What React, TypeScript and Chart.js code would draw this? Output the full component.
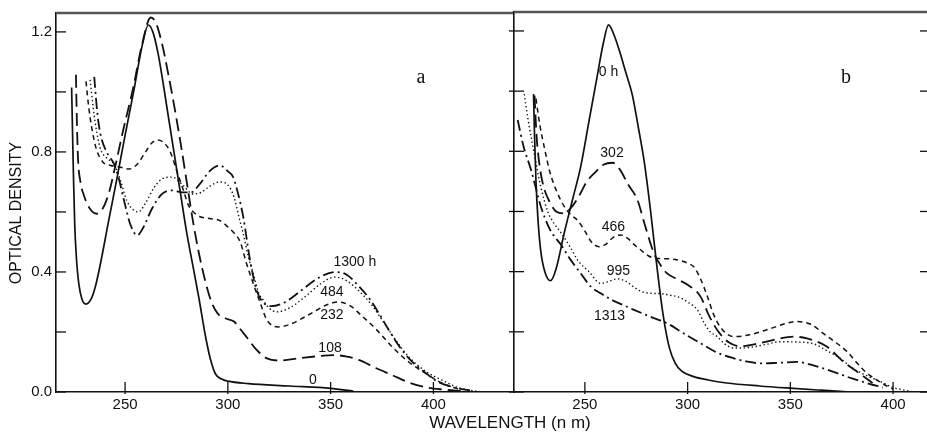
import React, { useEffect, useRef } from "react";
import { Chart, registerables } from "chart.js";
Chart.register(...registerables);

// ---- axis ticks ----
const yTicks = [0, 0.2, 0.4, 0.6, 0.8, 1.0, 1.2];
const yLabeled = [0, 0.4, 0.8, 1.2];
const xTicks = [250, 300, 350, 400];

// ---- panel a (wavelength nm, optical density) ----
const a0: number[][] = [[224.0,1.015],[224.4,0.88],[224.9,0.72],[225.5,0.56],[226.3,0.45],[227.5,0.36],[229,0.31],[231,0.293],[233.5,0.31],[235.5,0.35],[237.8,0.42],[242,0.57],[246,0.71],[250,0.855],[254,0.995],[258.5,1.16],[261.3,1.223],[263.5,1.2],[266,1.13],[268.5,1.03],[271,0.92],[274,0.79],[277,0.66],[280,0.53],[283,0.42],[286,0.31],[289,0.19],[291.5,0.11],[294,0.06],[297,0.043],[300,0.036],[310,0.028],[330,0.02],[350,0.012],[361,0.003]];
const a108: number[][] = [[226.1,1.057],[226.5,0.92],[227.1,0.78],[228.3,0.70],[230,0.655],[232.5,0.615],[236.2,0.594],[239,0.61],[242,0.66],[245,0.745],[249,0.87],[254,1.015],[258,1.15],[262.5,1.248],[265,1.23],[268,1.16],[271,1.06],[274,0.95],[277,0.83],[280,0.70],[283,0.57],[286,0.46],[289,0.37],[292,0.30],[295,0.262],[299,0.245],[303,0.235],[306,0.21],[309,0.184],[314,0.14],[319,0.112],[325,0.105],[335,0.113],[345,0.12],[351,0.123],[358,0.118],[364,0.106],[372,0.08],[380,0.056],[388,0.032],[396,0.016],[405,0.008],[414,0.003]];
const a232: number[][] = [[231,1.035],[232.3,0.95],[233.8,0.88],[236,0.81],[239.4,0.765],[243,0.755],[247,0.75],[252,0.743],[256,0.76],[260,0.8],[263,0.83],[266,0.84],[269,0.83],[272,0.8],[275,0.74],[278,0.68],[281,0.62],[284,0.595],[287,0.583],[291,0.578],[296,0.572],[300,0.55],[303,0.53],[306,0.5],[309,0.43],[312.4,0.36],[315.6,0.3],[319,0.24],[324.5,0.217],[330,0.225],[340,0.26],[348,0.29],[354,0.30],[360,0.285],[364,0.261],[372,0.21],[380,0.15],[388,0.1],[396,0.063],[404,0.03],[412,0.01]];
const a484: number[][] = [[233,1.04],[235,0.92],[237.8,0.815],[241,0.78],[244.6,0.76],[248,0.70],[250.8,0.638],[253.5,0.61],[256.4,0.6],[260,0.63],[264,0.68],[268,0.71],[273,0.716],[278,0.69],[283,0.66],[287,0.665],[291,0.685],[296,0.70],[300,0.69],[303,0.65],[305.5,0.58],[307.5,0.527],[310,0.45],[312.4,0.394],[315,0.33],[317.2,0.306],[320,0.28],[323.7,0.267],[330,0.28],[338,0.32],[345,0.36],[352,0.383],[358,0.37],[364,0.335],[370,0.29],[376,0.23],[382,0.17],[388,0.117],[396,0.07],[404,0.04],[412,0.015],[423,0.0]];
const a1300: number[][] = [[235,1.05],[236.5,0.93],[238,0.86],[241,0.8],[244.6,0.76],[247,0.71],[249.5,0.638],[252.5,0.56],[255.9,0.522],[259,0.55],[263,0.61],[268,0.66],[272.6,0.672],[278,0.665],[282,0.665],[286,0.69],[291,0.735],[296.2,0.755],[300,0.735],[302.6,0.716],[305,0.66],[307.5,0.583],[310.8,0.439],[314,0.339],[317,0.3],[321,0.286],[328,0.3],[336,0.34],[344,0.38],[352.3,0.40],[358,0.39],[364,0.35],[369,0.31],[373.5,0.262],[378,0.21],[383,0.156],[389,0.105],[395,0.07],[402,0.035],[410,0.015],[418,0.005]];

// ---- panel b ----
const b0: number[][] = [[225,0.99],[225.5,0.85],[226.2,0.7],[227.2,0.57],[228.5,0.47],[230.5,0.40],[233.3,0.37],[236,0.41],[240,0.53],[244,0.64],[248,0.75],[252,0.9],[256,1.05],[259,1.16],[261.5,1.22],[264,1.19],[267,1.13],[270,1.06],[273,0.99],[276,0.88],[279,0.76],[282,0.6],[285,0.42],[288,0.26],[291,0.15],[294,0.095],[297,0.07],[303,0.051],[310,0.04],[319,0.03],[335,0.02],[351.5,0.012],[365,0.006],[379,0.0]];
const b302: number[][] = [[225.5,0.985],[226.5,0.85],[228,0.75],[230,0.68],[233,0.63],[236,0.6],[239.5,0.594],[243,0.61],[247,0.65],[251,0.7],[255,0.73],[259,0.755],[263.4,0.762],[267,0.74],[271,0.69],[275.6,0.638],[279,0.56],[283.6,0.461],[287,0.42],[290,0.394],[295,0.375],[301.4,0.35],[306.3,0.317],[310,0.26],[314.4,0.206],[320,0.165],[325.7,0.152],[335,0.162],[343,0.175],[351.5,0.184],[358,0.178],[367.7,0.151],[375.9,0.1],[384,0.06],[390,0.03]];
const b466: number[][] = [[226.2,0.975],[228,0.89],[230.2,0.815],[233,0.73],[236.7,0.66],[240,0.616],[243,0.59],[246.4,0.571],[250,0.535],[253,0.5],[256.9,0.483],[260,0.49],[264,0.515],[267.5,0.522],[271,0.51],[274,0.49],[277.2,0.472],[281,0.452],[285.3,0.444],[290,0.443],[295,0.439],[300,0.428],[303,0.416],[306,0.38],[309.5,0.32],[312.5,0.26],[316,0.215],[322.5,0.184],[330,0.19],[340,0.21],[348,0.228],[353.2,0.234],[360,0.225],[366,0.195],[371,0.17],[377.5,0.135],[382,0.1],[385.6,0.073],[392,0.04],[397,0.02],[400,0.01]];
const b995: number[][] = [[220.5,0.99],[222.5,0.9],[225.4,0.79],[228.6,0.68],[231.9,0.6],[235,0.56],[238.3,0.53],[243,0.48],[246.4,0.439],[252,0.4],[257.7,0.361],[261,0.366],[265.7,0.376],[270,0.368],[274,0.348],[277.2,0.335],[282,0.328],[286.9,0.327],[291,0.322],[295,0.317],[299.8,0.3],[304.7,0.273],[308,0.23],[311,0.2],[314.4,0.184],[318,0.16],[322.5,0.146],[330,0.148],[338,0.158],[345,0.167],[353,0.166],[361.4,0.16],[367,0.14],[374.3,0.112],[380,0.08],[387,0.055],[393.7,0.035],[400,0.015],[405,0.007],[409.7,0.0]];
const b1313: number[][] = [[217.3,0.904],[220,0.82],[223.8,0.738],[228.6,0.616],[233,0.54],[238.3,0.49],[243,0.44],[248,0.394],[252.9,0.35],[257.7,0.328],[264,0.303],[270,0.285],[273.9,0.273],[282,0.25],[290.1,0.228],[298,0.195],[306.3,0.162],[314,0.132],[322.5,0.112],[330,0.1],[335.4,0.095],[344,0.097],[353.2,0.1],[362,0.087],[371,0.067],[380,0.045],[388,0.028],[395,0.015]];

// ---- curve labels (in data units) ----
const aLabels = [
  { text: "0", x: 341.4, y: 0.04 },
  { text: "108", x: 349.7, y: 0.146 },
  { text: "232", x: 350.6, y: 0.256 },
  { text: "484", x: 350.6, y: 0.332 },
  { text: "1300 h", x: 361.8, y: 0.432 },
];
const bLabels = [
  { text: "0 h", x: 261.5, y: 1.064 },
  { text: "302", x: 263.2, y: 0.795 },
  { text: "466", x: 263.9, y: 0.547 },
  { text: "995", x: 266.3, y: 0.402 },
  { text: "1313", x: 262, y: 0.253 },
];

const W = 927;
const H = 434;
const INK = "#111";
const SANS = '"Liberation Sans", Arial, sans-serif';

const dashes = {
  solid: [] as number[],
  long: [13, 6],
  short: [5, 4],
  dot: [1.4, 2.6],
  dashdot: [11, 4, 2, 4],
};

function ds(data: number[][], dash: number[], width: number) {
  return {
    data: data.map(([x, y]) => ({ x, y })),
    showLine: true,
    borderColor: INK,
    borderWidth: width,
    borderDash: dash,
    pointRadius: 0,
    fill: false,
    cubicInterpolationMode: "monotone" as const,
  };
}

const framePlugin = {
  id: "frame",
  afterDraw(chart: any, _a: any, opts: any) {
    const { ctx, chartArea: ca, scales } = chart;
    ctx.save();
    ctx.setLineDash([]);
    ctx.strokeStyle = INK;
    ctx.lineWidth = 1.3;
    for (const v of yTicks) {
      const py = scales.y.getPixelForValue(v);
      ctx.beginPath();
      ctx.moveTo(ca.left - opts.yOut, py);
      ctx.lineTo(ca.left + opts.yIn, py);
      ctx.stroke();
      if (opts.rightTicks) {
        ctx.beginPath();
        ctx.moveTo(ca.right - 7, py);
        ctx.lineTo(ca.right, py);
        ctx.stroke();
      }
    }
    for (const v of xTicks) {
      const px = scales.x.getPixelForValue(v);
      ctx.beginPath();
      ctx.moveTo(px, ca.bottom + 2);
      ctx.lineTo(px, ca.bottom - 10);
      ctx.stroke();
    }
    // top frame
    ctx.strokeStyle = "#555";
    ctx.lineWidth = 2.5;
    ctx.beginPath();
    ctx.moveTo(ca.left, ca.top);
    ctx.lineTo(ca.right, ca.top);
    ctx.stroke();
    // curve labels
    ctx.fillStyle = INK;
    ctx.font = `14px ${SANS}`;
    ctx.textAlign = "center";
    ctx.textBaseline = "middle";
    for (const l of opts.labels) {
      ctx.fillText(l.text, scales.x.getPixelForValue(l.x), scales.y.getPixelForValue(l.y));
    }
    // panel letter
    ctx.font = `20px "Liberation Serif", serif`;
    ctx.fillText(opts.letter, opts.letterX, opts.letterY);
    if (opts.titles) {
      ctx.font = `17px ${SANS}`;
      ctx.fillText("WAVELENGTH (n m)", 510, 423);
      ctx.save();
      ctx.translate(17, 213);
      ctx.rotate(-Math.PI / 2);
      ctx.font = `16px ${SANS}`;
      ctx.fillText("OPTICAL DENSITY", 0, 0);
      ctx.restore();
    }
    ctx.restore();
  },
};

function makeConfig(panel: "a" | "b") {
  const isA = panel === "a";
  const series = isA
    ? [
        ds(a0, dashes.solid, 1.7),
        ds(a108, dashes.long, 1.8),
        ds(a232, dashes.short, 1.5),
        ds(a484, dashes.dot, 1.4),
        ds(a1300, dashes.dashdot, 1.8),
      ]
    : [
        ds(b0, dashes.solid, 1.7),
        ds(b302, dashes.long, 1.8),
        ds(b466, dashes.short, 1.5),
        ds(b995, dashes.dot, 1.4),
        ds(b1313, dashes.dashdot, 1.8),
      ];
  return {
    type: "scatter" as const,
    data: { datasets: series },
    plugins: [framePlugin],
    options: {
      responsive: false,
      devicePixelRatio: 1,
      animation: false as const,
      layout: {
        padding: isA
          ? { left: 0, top: 12, right: W - 514, bottom: 0 }
          : { left: 514, top: 12, right: 0, bottom: 0 },
      },
      plugins: {
        legend: { display: false },
        tooltip: { enabled: false },
        frame: isA
          ? { yIn: 10, yOut: 0, rightTicks: false, labels: aLabels, letter: "a", letterX: 421, letterY: 78, titles: true }
          : { yIn: 10, yOut: 5, rightTicks: true, labels: bLabels, letter: "b", letterX: 846, letterY: 78, titles: false },
      },
      scales: {
        x: {
          type: "linear" as const,
          min: isA ? 216.4 : 215.5,
          max: isA ? 439.2 : 416.5,
          afterBuildTicks: (s: any) => {
            s.ticks = xTicks.map((v) => ({ value: v }));
          },
          afterFit: (s: any) => {
            s.height = H - 392;
          },
          ticks: {
            color: INK,
            font: { family: SANS, size: 15 },
            padding: 4,
            autoSkip: false,
            maxRotation: 0,
            callback: (v: any) => String(v),
          },
          grid: { drawOnChartArea: false, drawTicks: false },
          border: { display: true, color: INK, width: 1.6 },
        },
        y: {
          type: "linear" as const,
          min: 0,
          max: 1.263,
          afterBuildTicks: (s: any) => {
            s.ticks = yTicks.map((v) => ({ value: v }));
          },
          afterFit: (s: any) => {
            s.width = isA ? 56 : 0;
          },
          ticks: {
            display: isA,
            color: INK,
            font: { family: SANS, size: 15 },
            padding: 4,
            autoSkip: false,
            callback: (v: any) =>
              yLabeled.some((t) => Math.abs(t - v) < 1e-6) ? Number(v).toFixed(1) : "",
          },
          grid: { drawOnChartArea: false, drawTicks: false },
          border: { display: true, color: INK, width: 1.6 },
        },
      },
    },
  };
}

export default function App() {
  const refA = useRef<HTMLCanvasElement>(null);
  const refB = useRef<HTMLCanvasElement>(null);
  useEffect(() => {
    const ca = new Chart(refA.current as HTMLCanvasElement, makeConfig("a") as any);
    const cb = new Chart(refB.current as HTMLCanvasElement, makeConfig("b") as any);
    return () => {
      ca.destroy();
      cb.destroy();
    };
  }, []);
  const cs: React.CSSProperties = { position: "absolute", left: 0, top: 0, width: W, height: H };
  return (
    <div style={{ position: "absolute", left: 0, top: 0, width: W, height: H, background: "#fff" }}>
      <canvas ref={refA} width={W} height={H} style={cs} />
      <canvas ref={refB} width={W} height={H} style={cs} />
    </div>
  );
}
